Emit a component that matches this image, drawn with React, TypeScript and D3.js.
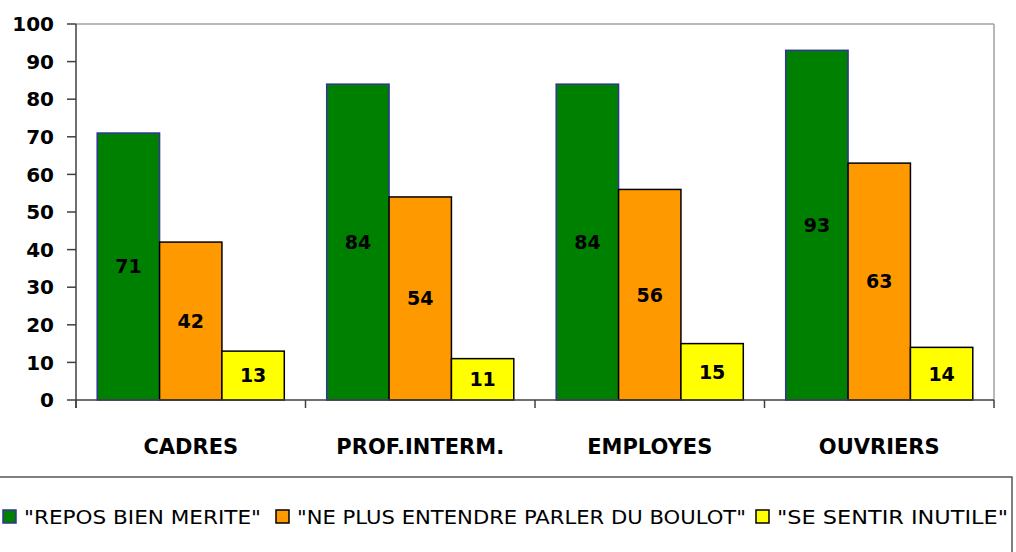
import React from "react";
import * as d3 from "d3";

const categories = ["CADRES", "PROF.INTERM.", "EMPLOYES", "OUVRIERS"];
const seriesNames = ['"REPOS BIEN MERITE"', '"NE PLUS ENTENDRE PARLER DU BOULOT"', '"SE SENTIR INUTILE"'];
const reposValues = [71, 84, 84, 93];
const boulotValues = [42, 54, 56, 63];
const inutileValues = [13, 11, 15, 14];
const yTicks = [0, 10, 20, 30, 40, 50, 60, 70, 80, 90, 100];

const fills = ["#008000", "#FF9900", "#FFFF00"];
const strokes = ["#333399", "#000000", "#000000"];

const W = 1016;
const H = 552;
const left = 76;
const right = 994;
const top = 24;
const bottom = 400;
const FONT = "'DejaVu Sans', Verdana, sans-serif";

export default function App() {
  const series = [reposValues, boulotValues, inutileValues];
  const x = d3.scaleBand<string>().domain(categories).range([left, right]).padding(0);
  const xs = d3
    .scaleBand<number>()
    .domain([0, 1, 2])
    .range([0, x.bandwidth()])
    .paddingInner(0)
    .paddingOuter(0.34);
  const y = d3.scaleLinear().domain([0, 100]).range([bottom, top]);

  const boundaries = [...categories.map((c) => x(c) as number), right];

  // legend layout: square positions + text widths
  const legendX = [3, 276, 756];
  const legendTextW = [237, 449, 231];
  const legendY = 524;

  return (
    <svg
      width={W}
      height={H}
      style={{ position: "absolute", left: 0, top: 0, background: "#fff" }}
      fontFamily={FONT}
    >
      <rect x={0} y={0} width={W} height={H} fill="#fff" />
      {/* plot frame */}
      <line x1={left} x2={right} y1={top} y2={top} stroke="#a0a0a0" strokeWidth={1.5} />
      <line x1={right} x2={right} y1={top} y2={bottom} stroke="#a0a0a0" strokeWidth={1.5} />

      {/* bars */}
      {categories.map((c, ci) =>
        series.map((vals, si) => {
          const bx = (x(c) as number) + (xs(si) as number);
          const by = y(vals[ci]);
          const bh = y(0) - by;
          return (
            <g key={c + si}>
              <rect
                x={bx}
                y={by}
                width={xs.bandwidth()}
                height={bh}
                fill={fills[si]}
                stroke={strokes[si]}
                strokeWidth={1.5}
              />
              <text
                x={bx + xs.bandwidth() / 2}
                y={by + bh / 2}
                dy="0.36em"
                textAnchor="middle"
                fontSize={19}
                fontWeight="bold"
                fill="#000"
              >
                {vals[ci]}
              </text>
            </g>
          );
        })
      )}

      {/* axes */}
      <line x1={left} x2={left} y1={top} y2={bottom + 8} stroke="#404040" strokeWidth={1.5} />
      <line x1={left} x2={right} y1={bottom} y2={bottom} stroke="#404040" strokeWidth={1.5} />
      {yTicks.map((t) => (
        <g key={t}>
          <line x1={left - 9} x2={left} y1={y(t)} y2={y(t)} stroke="#404040" strokeWidth={1.5} />
          <text
            x={54}
            y={y(t)}
            dy="0.36em"
            textAnchor="end"
            fontSize={20}
            fontWeight="bold"
            fill="#000"
          >
            {t}
          </text>
        </g>
      ))}
      {boundaries.map((bx, i) => (
        <line key={i} x1={bx} x2={bx} y1={bottom} y2={bottom + 8} stroke="#404040" strokeWidth={1.5} />
      ))}
      {categories.map((c) => (
        <text
          key={c}
          x={(x(c) as number) + x.bandwidth() / 2}
          y={454}
          textAnchor="middle"
          fontSize={21}
          fontWeight="bold"
          fill="#000"
        >
          {c}
        </text>
      ))}

      {/* legend */}
      <rect x={-5} y={477} width={1017} height={120} fill="none" stroke="#555" strokeWidth={1.5} />
      {seriesNames.map((n, i) => (
        <g key={n}>
          <rect
            x={legendX[i]}
            y={510}
            width={13}
            height={13}
            fill={fills[i]}
            stroke={strokes[i]}
            strokeWidth={1.5}
          />
          <text
            x={legendX[i] + 21}
            y={legendY}
            fontSize={19}
            fill="#000"
            textLength={legendTextW[i]}
            lengthAdjust="spacingAndGlyphs"
          >
            {n}
          </text>
        </g>
      ))}
    </svg>
  );
}
